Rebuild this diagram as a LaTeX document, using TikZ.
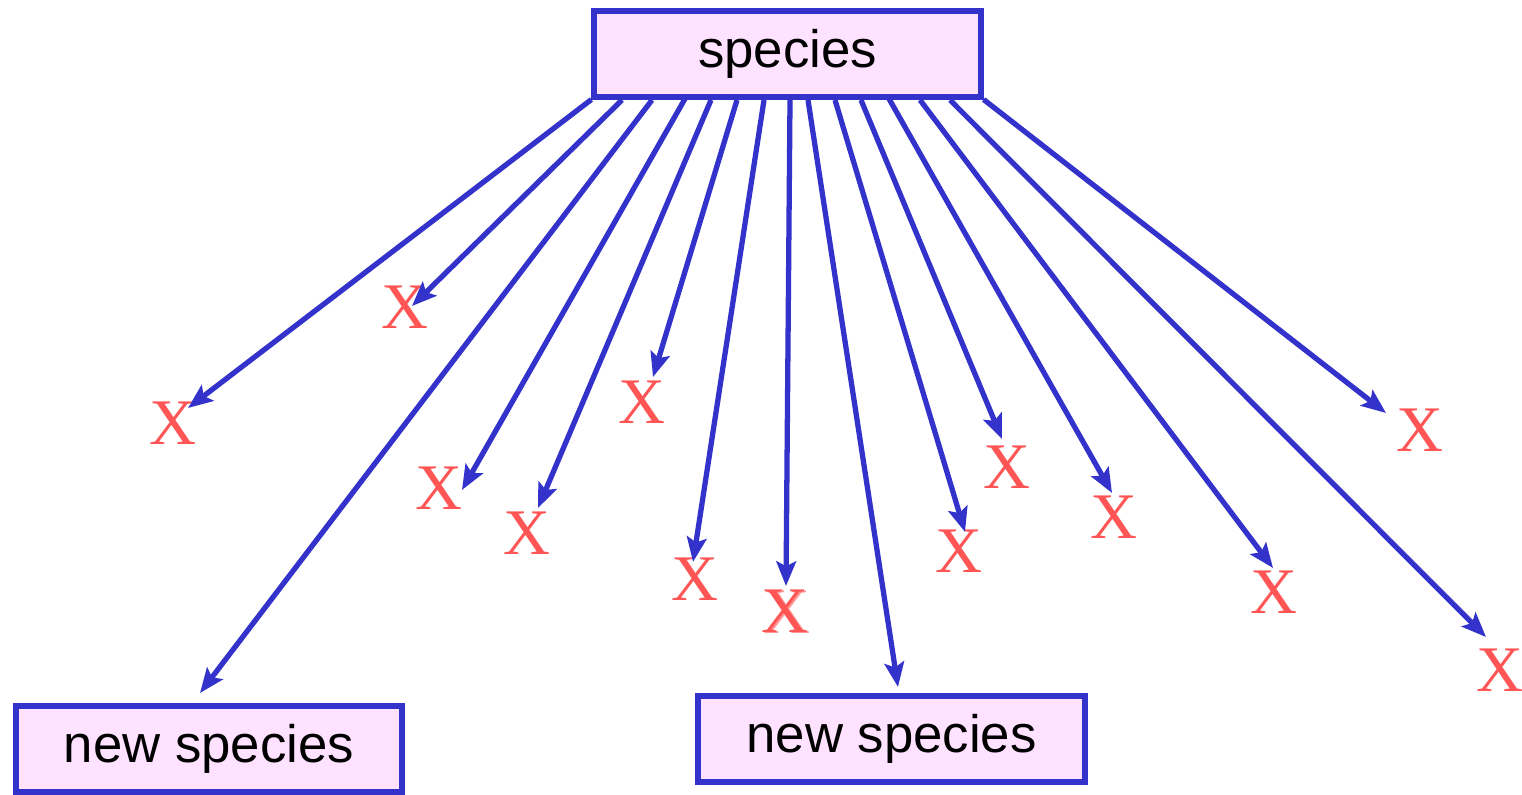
\documentclass[tikz,border=0pt]{standalone}
\usepackage{fontspec}
\setmainfont{Liberation Serif}
\setsansfont{Liberation Sans}
\usetikzlibrary{arrows.meta}
\definecolor{boxblue}{RGB}{51,51,204}
\definecolor{boxpink}{RGB}{255,226,255}
\definecolor{xred}{RGB}{255,85,85}
\tikzset{
  spbox/.style={draw=boxblue, fill=boxpink, line width=1.7pt, minimum width=3.86cm,
    minimum height=0.85cm, inner sep=0pt, font=\sffamily\fontsize{15}{18}\selectfont},
  xmark/.style={text=xred, inner sep=0pt, font=\fontsize{18.5}{20}\selectfont},
  sparrow/.style={draw=boxblue, line width=1.5pt, -{Stealth[length=7pt,width=5.6pt,inset=1.4pt]}}
}
\begin{document}
\begin{tikzpicture}[x=0.01cm, y=-0.01cm]
  \useasboundingbox (0,0) rectangle (1522,795);
  % boxes
  \node[spbox] (sp) at (787.5,54) {species};
  \node[spbox] (newl) at (209,749) {new species};
  \node[spbox] (newm) at (891.5,739) {new species};
  % marks
  \node[xmark] (x1) at (173,423) {X};
  \node[xmark] (x2) at (405,307) {X};
  \node[xmark] (x3) at (439,488) {X};
  \node[xmark] (x4) at (527,533) {X};
  \node[xmark] (x5) at (642,402) {X};
  \node[xmark] (x6) at (695,579) {X};
  \node[xmark] (x7) at (785,611) {X};
  \node[xmark, opacity=0.6] (x7b) at (787,612) {X};
  \node[xmark] (x8) at (1007,467) {X};
  \node[xmark] (x9) at (959,551) {X};
  \node[xmark] (x10) at (1114,517) {X};
  \node[xmark] (x11) at (1274,592) {X};
  \node[xmark] (x12) at (1420,430) {X};
  \node[xmark] (x13) at (1500,670) {X};
  % start points on the species box
  \coordinate (s1) at (sp.south west);
  \coordinate (s2) at (622,100);
  \coordinate (s3) at (652,100);
  \coordinate (s4) at (686,97);
  \coordinate (s5) at (711,100);
  \coordinate (s6) at (737,100);
  \coordinate (s7) at (764,100);
  \coordinate (s8) at (790,100);
  \coordinate (s9) at (808,100);
  \coordinate (s10) at (835,100);
  \coordinate (s11) at (861,100);
  \coordinate (s12) at (888,97);
  \coordinate (s13) at (920,100);
  \coordinate (s14) at (950,100);
  \coordinate (s15) at (sp.south east);
  % arrow tips
  \coordinate (t1) at (188,408);
  \coordinate (t2) at (412,306);
  \coordinate (t3) at (200,693);
  \coordinate (t4) at (462,490);
  \coordinate (t5) at (538,508);
  \coordinate (t6) at (653,377);
  \coordinate (t7) at (693,562);
  \coordinate (t8) at (786,586);
  \coordinate (t9) at (898,687);
  \coordinate (t10) at (965,532);
  \coordinate (t11) at (1002,439);
  \coordinate (t12) at (1112,493);
  \coordinate (t13) at (1273,568);
  \coordinate (t14) at (1486,637);
  \coordinate (t15) at (1386,413);
  \draw[sparrow] (s1) -- (t1);
  \draw[sparrow] (s2) -- (t2);
  \draw[sparrow] (s3) -- (t3);
  \draw[sparrow] (s4) -- (t4);
  \draw[sparrow] (s5) -- (t5);
  \draw[sparrow] (s6) -- (t6);
  \draw[sparrow] (s7) -- (t7);
  \draw[sparrow] (s8) -- (t8);
  \draw[sparrow] (s9) -- (t9);
  \draw[sparrow] (s10) -- (t10);
  \draw[sparrow] (s11) -- (t11);
  \draw[sparrow] (s12) -- (t12);
  \draw[sparrow] (s13) -- (t13);
  \draw[sparrow] (s14) -- (t14);
  \draw[sparrow] (s15) -- (t15);
\end{tikzpicture}
\end{document}
